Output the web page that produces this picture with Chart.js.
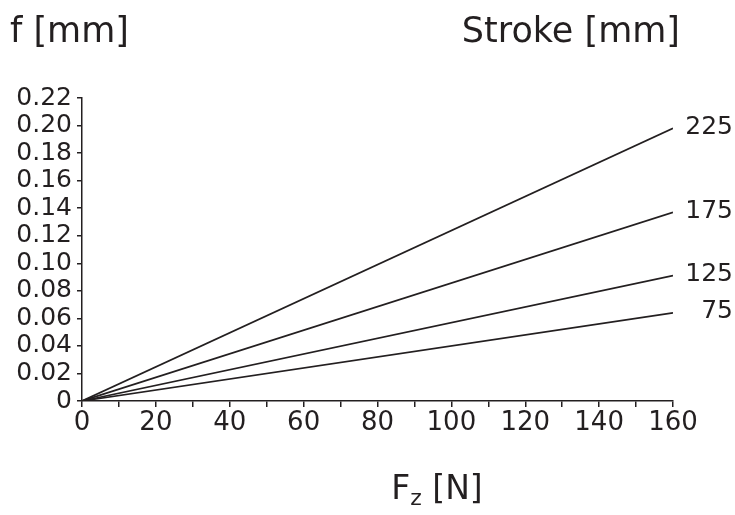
<!DOCTYPE html>
<html>
<head>
<meta charset="utf-8">
<script src="https://cdn.jsdelivr.net/npm/chart.js@4.4.1/dist/chart.umd.min.js"></script>
<style>
  html, body { margin: 0; padding: 0; background: #fff; }
  #wrap { width: 735px; height: 515px; position: relative; }
</style>
</head>
<body>
<div id="wrap"><canvas id="c" width="735" height="515"></canvas></div>
<script>
// Axial force F_z [N] at the two ends of each deflection line
const forceN = [0, 160];
// Deflection f [mm] for each stroke length
const strokes = ['225', '175', '125', '75'];
const deflection225 = [0, 0.198];
const deflection175 = [0, 0.137];
const deflection125 = [0, 0.091];
const deflection75 = [0, 0.064];
const yTicks = [0, 0.02, 0.04, 0.06, 0.08, 0.10, 0.12, 0.14, 0.16, 0.18, 0.20, 0.22];
const xTickLabels = [0, 20, 40, 60, 80, 100, 120, 140, 160];

const INK = '#231f20';
const FONT = '"DejaVu Sans", sans-serif';
const series = [deflection225, deflection175, deflection125, deflection75];

const datasets = series.map((vals, i) => ({
  label: strokes[i],
  data: forceN.map((x, j) => ({ x: x, y: vals[j] })),
  borderColor: INK,
  borderWidth: 1.7,
  pointRadius: 0,
  fill: false,
  tension: 0
}));

// Titles, axis caption with subscript and stroke labels at line ends
const annotate = {
  id: 'annotate',
  afterDraw(chart) {
    const ctx = chart.ctx;
    ctx.save();
    ctx.fillStyle = INK;
    ctx.textBaseline = 'alphabetic';
    ctx.font = '35px ' + FONT;
    ctx.textAlign = 'left';
    ctx.fillText('f [mm]', 10, 42);
    ctx.textAlign = 'right';
    ctx.fillText('Stroke [mm]', 680, 42);

    // F_z [N]
    const cx = 437, by = 499;
    ctx.font = '33px ' + FONT;
    const wF = ctx.measureText('F').width;
    ctx.font = '22px ' + FONT;
    const wz = ctx.measureText('z').width;
    ctx.font = '33px ' + FONT;
    const wN = ctx.measureText(' [N]').width;
    let x = cx - (wF + wz + wN) / 2;
    ctx.textAlign = 'left';
    ctx.fillText('F', x, by); x += wF;
    ctx.font = '22px ' + FONT;
    ctx.fillText('z', x, by + 6); x += wz;
    ctx.font = '33px ' + FONT;
    ctx.fillText(' [N]', x, by);

    // stroke labels beside each line end
    ctx.font = '25px ' + FONT;
    ctx.textAlign = 'right';
    ctx.textBaseline = 'middle';
    chart.data.datasets.forEach((ds, i) => {
      const meta = chart.getDatasetMeta(i);
      const last = meta.data[meta.data.length - 1];
      ctx.fillText(ds.label, 733, last.y - 1);
    });
    ctx.restore();
  }
};

new Chart(document.getElementById('c'), {
  type: 'line',
  data: { datasets },
  plugins: [annotate],
  options: {
    responsive: false,
    animation: false,
    layout: { padding: { top: 98, right: 62, left: 0, bottom: 0 } },
    plugins: { legend: { display: false }, tooltip: { enabled: false } },
    scales: {
      x: {
        type: 'linear',
        min: 0, max: 160,
        afterFit(s) { s.height = 114; },
        afterBuildTicks(s) {
          const t = [];
          for (let v = 0; v <= 160; v += 10) t.push({ value: v });
          s.ticks = t;
        },
        border: { display: true, color: INK, width: 1.5 },
        grid: { display: true, drawOnChartArea: false, drawTicks: true, tickLength: 6, color: INK, lineWidth: 1.5 },
        ticks: {
          autoSkip: false,
          maxRotation: 0,
          padding: 1,
          color: INK,
          font: { family: FONT, size: 26 },
          callback: v => (xTickLabels.includes(v) ? String(v) : '')
        }
      },
      y: {
        type: 'linear',
        min: 0, max: 0.22,
        afterFit(s) { s.width = 82; },
        afterBuildTicks(s) { s.ticks = yTicks.map(v => ({ value: v })); },
        border: { display: true, color: INK, width: 1.5 },
        grid: { display: true, drawOnChartArea: false, drawTicks: true, tickLength: 5, color: INK, lineWidth: 1.5 },
        ticks: {
          autoSkip: false,
          padding: 5,
          color: INK,
          font: { family: FONT, size: 25 },
          callback: v => (v === 0 ? '0' : v.toFixed(2))
        }
      }
    }
  }
});
</script>
</body>
</html>
